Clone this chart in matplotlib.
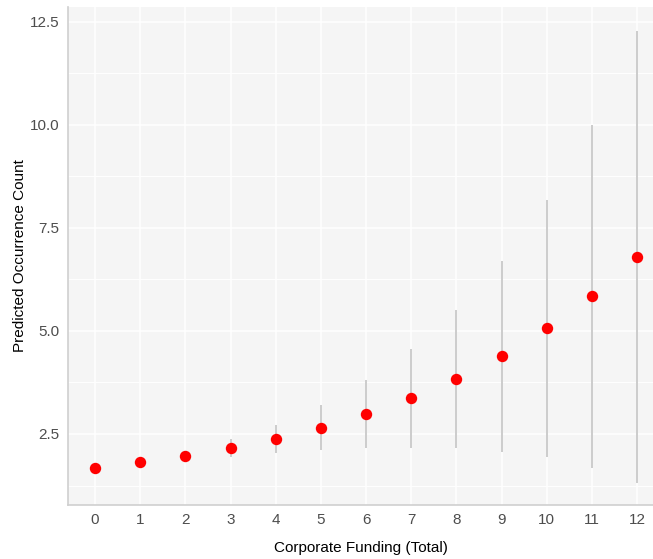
import numpy as np
import matplotlib
matplotlib.use("Agg")
import matplotlib.pyplot as plt
from matplotlib.ticker import MultipleLocator

# predicted counts and intervals by corporate funding level
funding = [0, 1, 2, 3, 4, 5, 6, 7, 8, 9, 10, 11, 12]
predicted = [1.68, 1.82, 1.97, 2.16, 2.38, 2.65, 2.99, 3.37, 3.83, 4.39, 5.07, 5.85, 6.80]
lower = [1.62, 1.75, 1.90, 1.94, 2.03, 2.10, 2.15, 2.17, 2.15, 2.07, 1.93, 1.68, 1.30]
upper = [1.74, 1.89, 2.05, 2.38, 2.73, 3.20, 3.81, 4.56, 5.52, 6.70, 8.18, 10.00, 12.28]
yticks = [2.5, 5.0, 7.5, 10.0, 12.5]

plt.rcParams['font.family'] = ['Liberation Sans', 'DejaVu Sans']

fig = plt.figure(figsize=(6.53, 5.59), dpi=100)
ax = fig.add_axes([68 / 653, 54 / 559, (653 - 68) / 653, (505 - 7) / 559])
ax.set_facecolor('#f5f5f5')

ax.vlines(funding, lower, upper, color='#c4c4c4', lw=1.2, zorder=3)
ax.plot(funding, predicted, 'o', color='#ff0000', ms=8.2, mec='none', zorder=4)

ax.set_xlim(-0.6, 12.35)
ax.set_ylim(0.777, 12.86)
ax.set_xticks(funding)
ax.set_yticks(yticks)
ax.set_yticklabels(['%.1f' % v for v in yticks])
ax.yaxis.set_minor_locator(MultipleLocator(1.25))

ax.grid(which='major', color='white', lw=1.1, zorder=1)
ax.grid(which='minor', axis='y', color='white', lw=0.7, zorder=1)
ax.set_axisbelow(True)

for s in ['top', 'right']:
    ax.spines[s].set_visible(False)
for s in ['left', 'bottom']:
    ax.spines[s].set_color('#cfcfcf')
    ax.spines[s].set_linewidth(1.2)

ax.tick_params(which='both', length=0, labelsize=11, labelcolor='#4d4d4d', pad=6)
ax.set_xlabel('Corporate Funding (Total)', fontsize=11, color='black', labelpad=10)
ax.set_ylabel('Predicted Occurrence Count', fontsize=11, color='black', labelpad=2)

fig.savefig('out.png', dpi=100)
